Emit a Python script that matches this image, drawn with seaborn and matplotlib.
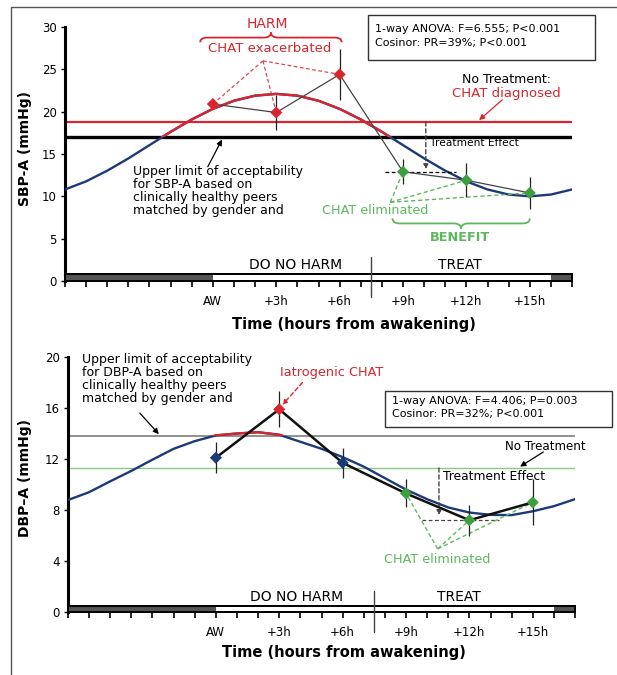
import matplotlib
matplotlib.use("Agg")
import matplotlib.pyplot as plt
import seaborn as sns
from matplotlib.patches import Rectangle, PathPatch
from matplotlib.path import Path
from matplotlib.lines import Line2D

# ---- data ----
hours = list(range(-7, 18))
sbp_fit = [10.81, 11.77, 13.03, 14.48, 16.05, 17.62, 19.08, 20.33, 21.29, 21.89, 22.10, 21.89, 21.29,
           20.33, 19.08, 17.62, 16.05, 14.48, 13.03, 11.77, 10.81, 10.21, 10.00, 10.21, 10.81]
dbp_fit = [8.78, 9.40, 10.25, 11.07, 11.95, 12.80, 13.40, 13.85, 14.00, 14.10, 13.90, 13.35, 12.80,
           12.15, 11.40, 10.50, 9.60, 8.85, 8.20, 7.80, 7.62, 7.60, 7.90, 8.30, 8.85]

obs_hours = [0, 3, 6, 9, 12, 15]
obs_labels = ["AW", "+3h", "+6h", "+9h", "+12h", "+15h"]
sbp_mean = [20.9, 19.9, 24.4, 12.9, 11.9, 10.4]
sbp_err = [0.3, 2.1, 3.0, 1.5, 2.0, 1.9]
sbp_status = ["harm", "harm", "harm", "benefit", "benefit", "benefit"]
dbp_mean = [12.1, 15.9, 11.7, 9.3, 7.2, 8.6]
dbp_err = [1.2, 1.4, 1.2, 1.1, 1.2, 1.8]
dbp_status = ["none", "harm", "none", "benefit", "benefit", "benefit"]

sbp_limit, sbp_notreat = 17.0, 18.8
dbp_limit, dbp_notreat = 13.8, 11.3
sleep_spans = [(-7, 0), (16, 17)]
treat_start = 7.5

RED = "#d8252f"
BLUE = "#1d3a78"
GREEN = "#3c9e3c"
LGREEN = "#5db85d"
palette = {"harm": RED, "benefit": GREEN, "none": BLUE}

sns.set_style("ticks")
plt.rcParams["font.family"] = ["DejaVu Sans"]
plt.rcParams.update({"text.color": "black", "axes.edgecolor": "black", "xtick.color": "black",
                     "ytick.color": "black", "axes.labelcolor": "black"})

fig = plt.figure(figsize=(6.17, 6.75), dpi=100)
W, H = 617, 675


def fp(x, y):
    return x / W, 1 - y / H


def brace(ax, x0, x1, y_end, y_body, y_tip, color, d=0.35):
    xm = (x0 + x1) / 2
    verts = [(x0, y_end), (x0, y_body), (x0 + d, y_body), (xm - d, y_body), (xm, y_body), (xm, y_tip),
             (xm, y_body), (xm + d, y_body), (x1 - d, y_body), (x1, y_body), (x1, y_end)]
    codes = [Path.MOVETO, Path.CURVE3, Path.CURVE3, Path.LINETO, Path.CURVE3, Path.CURVE3,
             Path.CURVE3, Path.CURVE3, Path.LINETO, Path.CURVE3, Path.CURVE3]
    ax.add_patch(PathPatch(Path(verts, codes), fc="none", ec=color, lw=1.3, clip_on=False))


def base_panel(ax, fit, limit, mean, err, status, ymax, ystep, bar_h, data_lw, div):
    ax.set_xlim(-7, 17)
    ax.set_ylim(0, ymax)
    # cosinor fit: blue, red where above the limit
    sns.lineplot(x=hours, y=fit, color=BLUE, lw=1.7, ax=ax, zorder=3)
    red_part, = ax.plot(hours, fit, color=RED, lw=1.7, zorder=3.1)
    red_part.set_clip_path(Rectangle((-7, limit), 24, ymax, transform=ax.transData))
    # observations
    ax.plot(obs_hours, mean, color="#111111" if data_lw > 1.2 else "#444444", lw=data_lw, zorder=4)
    ax.errorbar(obs_hours, mean, yerr=err, fmt="none", ecolor="#222222", elinewidth=0.9, capsize=0, zorder=4)
    sns.scatterplot(x=obs_hours, y=mean, hue=status, palette=palette, marker="D", s=38,
                    edgecolor="none", legend=False, ax=ax, zorder=5)
    # sleep/wake bar
    ax.add_patch(Rectangle((-7, 0), 24, bar_h, fc="white", ec="black", lw=1.4, clip_on=False, zorder=6))
    for a, b in sleep_spans:
        ax.add_patch(Rectangle((a, 0), b - a, bar_h, fc="#555555", ec="none", clip_on=False, zorder=6.5))
    ax.add_patch(Rectangle((-7, 0), 24, bar_h, fc="none", ec="black", lw=1.4, clip_on=False, zorder=7))
    ax.plot([treat_start, treat_start], div, color="#444444", lw=1, clip_on=False, zorder=7)
    # axes styling
    ax.set_xticks(hours)
    ax.set_xticklabels([obs_labels[obs_hours.index(h)] if h in obs_hours else "" for h in hours])
    ax.set_yticks(range(0, ymax + 1, ystep))
    ax.tick_params(axis="x", direction="out", length=4, width=1.2, pad=6, labelsize=8.5)
    ax.tick_params(axis="y", direction="out", length=3, width=1, pad=3, labelsize=8.5)
    ax.spines["left"].set_linewidth(2.2)
    ax.spines["bottom"].set_linewidth(1.4)
    sns.despine(ax=ax)
    ax.set_xlabel("")
    ax.set_ylabel("")


def dashed_arrow(ax, xy_from, xy_to, color, lw=1.0):
    ax.annotate("", xy=xy_to, xytext=xy_from,
                arrowprops=dict(arrowstyle="-|>", color=color, lw=lw, ls=(0, (3, 2)),
                                mutation_scale=7, shrinkA=0, shrinkB=0))


def arrow(ax, xy_from, xy_to, color="black"):
    ax.annotate("", xy=xy_to, xytext=xy_from,
                arrowprops=dict(arrowstyle="-|>", color=color, lw=0.9, mutation_scale=8, shrinkA=0, shrinkB=0))


# ---------------- top panel: SBP-A ----------------
ax1 = fig.add_axes([65 / W, 1 - 281 / H, 507 / W, 254 / H])
ax1.hlines(sbp_notreat, -7, 17, color=RED, lw=1.6, zorder=2)
ax1.hlines(sbp_limit, -7, 17, color="black", lw=2.4, zorder=2)
base_panel(ax1, sbp_fit, sbp_limit, sbp_mean, sbp_err, sbp_status, 30, 5, 0.85, 0.9, [-1.9, 2.8])

ax1.text(2.6, 30.3, "HARM", color=RED, fontsize=10, ha="center", va="center")
brace(ax1, -0.6, 6.1, 28.2, 28.75, 29.35, RED)
ax1.text(2.7, 27.5, "CHAT exacerbated", color=RED, fontsize=9.5, ha="center", va="center")
for h, m, s in zip(obs_hours, sbp_mean, sbp_status):
    if s == "harm":
        ax1.plot([2.37, h], [26.0, m], color=RED, lw=0.9, ls=(0, (3, 2)), alpha=0.85, zorder=3)
ax1.text(13.9, 23.85, "No Treatment:", fontsize=9, ha="center", va="center")
ax1.text(13.9, 22.2, "CHAT diagnosed", color=RED, fontsize=9.5, ha="center", va="center")
arrow(ax1, (13.7, 21.4), (12.6, 19.0), RED)

te_x = 10.08
dashed_arrow(ax1, (te_x, sbp_notreat), (te_x, sbp_mean[3] + 0.3), "#444444")
ax1.plot([8.15, 11.5], [sbp_mean[3], sbp_mean[3]], color="black", lw=0.9, ls=(0, (3, 2)), zorder=3)
ax1.text(10.3, 16.3, "Treatment Effect", fontsize=7.7, ha="left", va="center")

ax1.text(-3.8, 13.65, "Upper limit of acceptability\nfor SBP-A based on\nclinically healthy peers\nmatched by gender and",
         fontsize=9, ha="left", va="top", linespacing=1.0)
arrow(ax1, (-0.24, 13.5), (0.43, 16.7))

ax1.text(7.7, 8.3, "CHAT eliminated", color=LGREEN, fontsize=9.2, ha="center", va="center")
for h, m, s in zip(obs_hours, sbp_mean, sbp_status):
    if s == "benefit":
        ax1.plot([8.4, h], [9.3, m], color=LGREEN, lw=1.0, ls=(0, (3, 2)), zorder=3)
brace(ax1, 8.5, 15.0, 7.4, 6.8, 6.15, LGREEN)
ax1.text(11.7, 5.1, "BENEFIT", color=LGREEN, fontsize=9.3, fontweight="bold", ha="center", va="center")
ax1.text(3.9, 1.9, "DO NO HARM", fontsize=10, ha="center", va="center")
ax1.text(11.7, 1.9, "TREAT", fontsize=10, ha="center", va="center")

# ---------------- bottom panel: DBP-A ----------------
ax2 = fig.add_axes([68 / W, 1 - 612 / H, 507 / W, 255 / H])
ax2.hlines(dbp_limit, -7, 17, color="#888888", lw=1.3, zorder=2)
ax2.hlines(dbp_notreat, -7, 17, color="#86cc86", lw=1.0, zorder=2)
base_panel(ax2, dbp_fit, dbp_limit, dbp_mean, dbp_err, dbp_status, 20, 4, 0.5, 1.8, [-1.57, 1.65])

ax2.text(-6.34, 20.3, "Upper limit of acceptability\nfor DBP-A based on\nclinically healthy peers\nmatched by gender and",
         fontsize=9, ha="left", va="top", linespacing=1.0)
arrow(ax2, (-3.6, 15.6), (-2.7, 13.95))
ax2.text(5.5, 18.75, "Iatrogenic CHAT", color=RED, fontsize=9.3, ha="center", va="center")
dashed_arrow(ax2, (4.1, 18.0), (3.15, 16.25), RED)
ax2.text(15.6, 13.0, "No Treatment", fontsize=8.6, ha="center", va="center")
arrow(ax2, (15.5, 12.55), (14.4, 11.4))

te_x2 = 10.56
dashed_arrow(ax2, (te_x2, dbp_notreat), (te_x2, dbp_mean[4] + 0.4), "#444444")
ax2.plot([9.75, 13.4], [dbp_mean[4], dbp_mean[4]], color="#444444", lw=0.9, ls=(0, (3, 2)), zorder=3)
ax2.text(10.75, 10.6, "Treatment Effect", fontsize=8.8, ha="left", va="center")

ax2.text(10.5, 4.15, "CHAT eliminated", color=LGREEN, fontsize=9.2, ha="center", va="center")
for h, m, s in zip(obs_hours, dbp_mean, dbp_status):
    if s == "benefit":
        ax2.plot([10.5, h], [4.95, m], color=LGREEN, lw=1.0, ls=(0, (3, 2)), zorder=3)
ax2.text(3.8, 1.2, "DO NO HARM", fontsize=10, ha="center", va="center")
ax2.text(11.5, 1.2, "TREAT", fontsize=10, ha="center", va="center")

# ---------------- figure-level labels, stats boxes and frame ----------------
fig.text(*fp(354, 324), "Time (hours from awakening)", fontsize=10.5, fontweight="bold", ha="center", va="center")
fig.text(*fp(344, 653), "Time (hours from awakening)", fontsize=10.5, fontweight="bold", ha="center", va="center")
fig.text(*fp(25, 148), "SBP-A (mmHg)", fontsize=10, fontweight="bold", rotation=90, ha="center", va="center")
fig.text(*fp(25, 478), "DBP\u2013A (mmHg)", fontsize=10, fontweight="bold", rotation=90, ha="center", va="center")

for (x0, y0, x1, y1), lines, ty in [((368, 15, 595, 60), ["1-way ANOVA: F=6.555; P<0.001", "Cosinor: PR=39%; P<0.001"], (29, 43)),
                                      ((385, 391, 612, 427), ["1-way ANOVA: F=4.406; P=0.003", "Cosinor: PR=32%; P<0.001"], (401, 414))]:
    fig.add_artist(Rectangle(fp(x0, y1), (x1 - x0) / W, (y1 - y0) / H, transform=fig.transFigure,
                             fc="white", ec="#333333", lw=1.0))
    for txt, yy in zip(lines, ty):
        fig.text(*fp(x0 + 7, yy), txt, fontsize=8, ha="left", va="center")

fig.add_artist(Line2D([11 / W, 11 / W, 1], [0, 1 - 7 / H, 1 - 7 / H], transform=fig.transFigure,
                      color="#555555", lw=1.0))

fig.savefig("out.png", dpi=100)
